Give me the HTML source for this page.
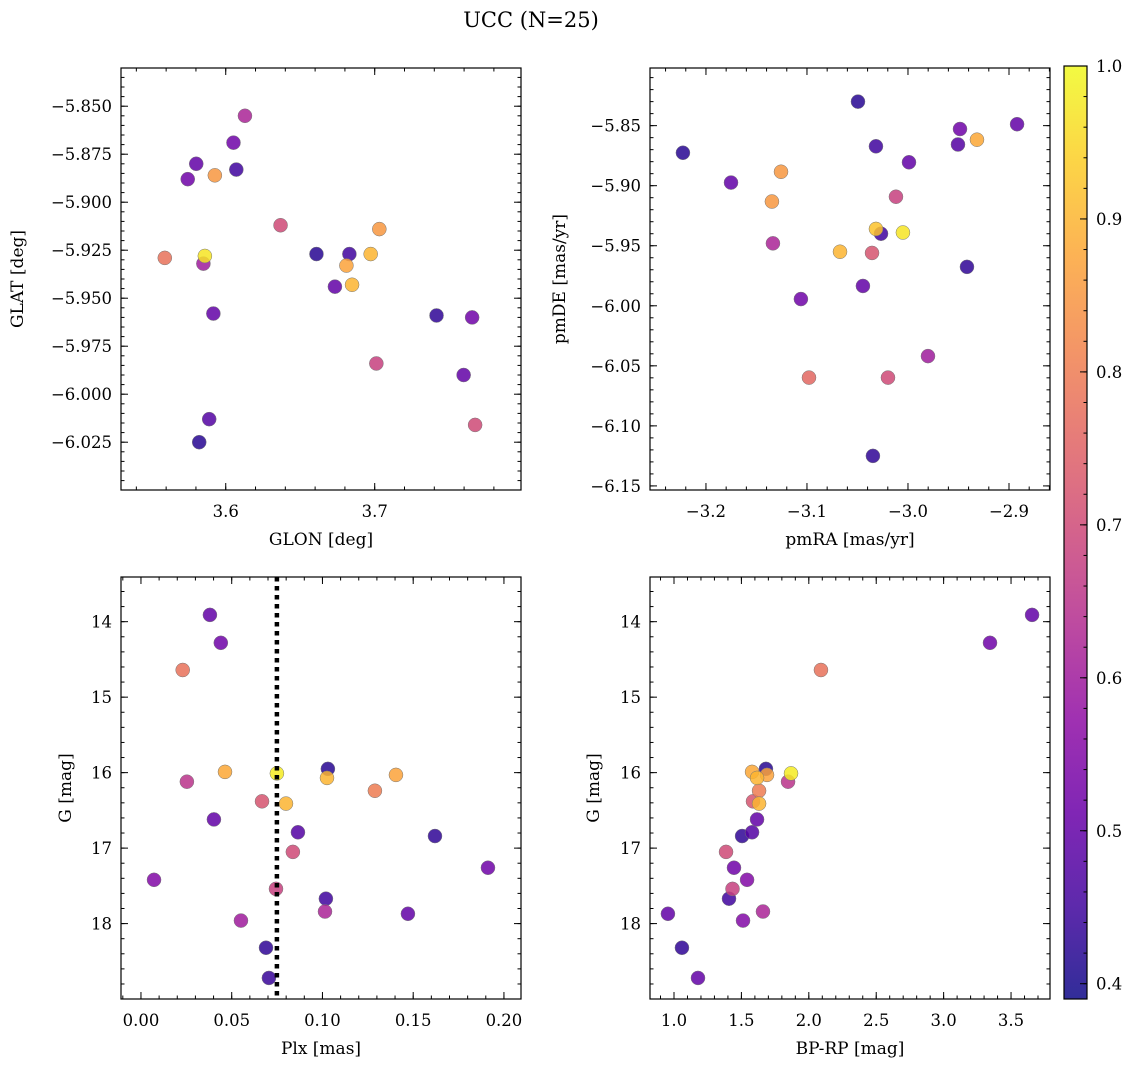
<!DOCTYPE html>
<html><head><meta charset="utf-8"><style>
body{margin:0;background:#fff}
svg text{font-family:"DejaVu Serif","Liberation Serif",serif;fill:#000}
</style></head><body>
<svg id="fig" width="1136" height="1067" xmlns="http://www.w3.org/2000/svg">
<text x="531" y="27" font-size="21" text-anchor="middle">UCC (N=25)</text>
</svg>
<script>
const prob1=[0.62,0.52,0.5,0.45,0.52,0.85,0.7,0.78,0.97,0.6,0.42,0.45,0.9,0.85,0.87,0.9,0.5,0.5,0.43,0.52,0.68,0.5,0.48,0.42,0.7];
const glon=[3.6129,3.6052,3.5802,3.6071,3.5745,3.5927,3.6368,3.5591,3.5860,3.5850,3.6609,3.6830,3.6973,3.7031,3.6810,3.6848,3.6733,3.5917,3.7415,3.7654,3.7011,3.7597,3.5889,3.5822,3.7674];
const glat=[-5.855,-5.869,-5.880,-5.883,-5.888,-5.886,-5.912,-5.929,-5.928,-5.932,-5.927,-5.927,-5.927,-5.914,-5.933,-5.943,-5.944,-5.958,-5.959,-5.960,-5.984,-5.990,-6.013,-6.025,-6.016];
const prob2=[0.42,0.42,0.5,0.52,0.48,0.88,0.45,0.5,0.5,0.85,0.85,0.68,0.92,0.45,0.97,0.62,0.9,0.72,0.43,0.52,0.5,0.6,0.76,0.7,0.43];
const pmra=[-3.0495,-3.2228,-2.892,-2.9485,-2.9505,-2.9317,-3.0317,-2.999,-3.1752,-3.1257,-3.1347,-3.0119,-3.0317,-3.0267,-3.005,-3.1337,-3.0673,-3.0356,-2.9416,-3.106,-3.0446,-2.9802,-3.098,-3.0198,-3.0347];
const pmde=[-5.830,-5.8726,-5.8488,-5.8528,-5.8657,-5.8617,-5.8672,-5.8805,-5.8974,-5.8884,-5.9132,-5.9092,-5.936,-5.940,-5.939,-5.948,-5.955,-5.956,-5.9676,-5.9944,-5.9835,-6.0419,-6.0598,-6.0598,-6.125];
const prob3=[0.5,0.52,0.78,0.42,0.88,0.98,0.9,0.87,0.65,0.8,0.72,0.9,0.5,0.48,0.43,0.7,0.52,0.55,0.68,0.45,0.62,0.5,0.6,0.43,0.44];
const plx=[0.038,0.044,0.023,0.103,0.0463,0.0749,0.1025,0.1405,0.0253,0.1289,0.0667,0.0799,0.0402,0.0865,0.162,0.0837,0.1912,0.0072,0.0744,0.1019,0.1014,0.1471,0.0551,0.0689,0.0705];
const gmag=[13.91,14.28,14.64,15.95,15.99,16.01,16.07,16.03,16.12,16.24,16.38,16.41,16.62,16.79,16.84,17.05,17.26,17.42,17.54,17.67,17.84,17.87,17.96,18.32,18.72];
const prob4=[0.5,0.52,0.78,0.42,0.88,0.98,0.9,0.87,0.65,0.8,0.72,0.9,0.5,0.48,0.43,0.7,0.52,0.55,0.68,0.45,0.62,0.5,0.55,0.43,0.5];
const bprp=[3.656,3.344,2.09,1.682,1.579,1.868,1.616,1.69,1.846,1.631,1.586,1.631,1.616,1.579,1.505,1.386,1.445,1.542,1.434,1.408,1.660,0.955,1.512,1.059,1.178];
const plxLine=[0.0749];
const cbTicks=[0.4,0.5,0.6,0.7,0.8,0.9,1.0];

const NS="http://www.w3.org/2000/svg";
const svg=document.getElementById('fig');
function mk(t,a,p){const e=document.createElementNS(NS,t);for(const k in a)e.setAttribute(k,a[k]);(p||svg).appendChild(e);return e;}
const stops=[[0,'#0d0887'],[0.1,'#41049d'],[0.2,'#6a00a8'],[0.3,'#8f0da4'],[0.4,'#b12a90'],[0.5,'#cc4778'],[0.6,'#e16462'],[0.7,'#f2844b'],[0.8,'#fca636'],[0.9,'#fcce25'],[1,'#f0f921']];
function hx(h){return [1,3,5].map(i=>parseInt(h.substr(i,2),16));}
const VMIN=0.39,VMAX=1.0;
function cmap(v){let t=(v-VMIN)/(VMAX-VMIN);t=Math.max(0,Math.min(1,t));
 for(let i=0;i<stops.length-1;i++){if(t<=stops[i+1][0]){const f=(t-stops[i][0])/(stops[i+1][0]-stops[i][0]);const a=hx(stops[i][1]),b=hx(stops[i+1][1]);return 'rgb('+a.map((x,j)=>Math.round(x+(b[j]-x)*f)).join(',')+')';}}return stops[10][1];}

function fmt(v,d){const s=Math.abs(v).toFixed(d);return (v<-1e-9?'\u2212':'')+s;}
function axes(name,L,T,W,H,xr,yr,xmaj,xmin,xd,ymaj,ymin,yd,xlabel,ylabel,yinv,yoff){
 const g=mk('g',{});
 
 
 const sx=v=>L+(v-xr[0])/(xr[1]-xr[0])*W;
 const sy=yinv?(v=>T+(v-yr[0])/(yr[1]-yr[0])*H):(v=>T+H-(v-yr[0])/(yr[1]-yr[0])*H);
 const ticks=(st,lo,hi)=>{const a=[];const s=Math.ceil(Math.min(lo,hi)/st-1e-6);for(let k=s;k*st<=Math.max(lo,hi)+1e-9;k++)a.push(+(k*st).toFixed(6));return a;};
 const tg=mk('g',{stroke:'#000','stroke-width':1},g);
 
 
 ticks(xmin,xr[0],xr[1]).forEach(v=>{const x=sx(v);mk('line',{x1:x,x2:x,y1:T+H,y2:T+H-3.5},tg);mk('line',{x1:x,x2:x,y1:T,y2:T+3.5},tg);});
 ticks(ymin,yr[0],yr[1]).forEach(v=>{const y=sy(v);mk('line',{x1:L,x2:L+3.5,y1:y,y2:y},tg);mk('line',{x1:L+W,x2:L+W-3.5,y1:y,y2:y},tg);});
 ticks(xmaj,xr[0],xr[1]).forEach(v=>{const x=sx(v);mk('line',{x1:x,x2:x,y1:T+H,y2:T+H-7},tg);mk('line',{x1:x,x2:x,y1:T,y2:T+7},tg);
   const t=mk('text',{x:x,y:T+H+27,'font-size':16.5,'text-anchor':'middle'},g);t.textContent=fmt(v,xd);
   
   });
 ticks(ymaj,yr[0],yr[1]).forEach(v=>{const y=sy(v);mk('line',{x1:L,x2:L+7,y1:y,y2:y},tg);mk('line',{x1:L+W,x2:L+W-7,y1:y,y2:y},tg);
   const t=mk('text',{x:L-9,y:y+6,'font-size':16.5,'text-anchor':'end'},g);t.textContent=fmt(v,yd);
   
   });
 const xl=mk('text',{x:L+W/2,y:T+H+55,'font-size':17,'text-anchor':'middle'},g);xl.textContent=xlabel;
 
 
 const yl=mk('text',{x:0,y:0,'font-size':17,'text-anchor':'middle',transform:`translate(${L-yoff},${T+H/2}) rotate(-90)`},g);yl.textContent=ylabel;
 
 
 const fr=mk('rect',{x:L,y:T,width:W,height:H,fill:'none',stroke:'#000','stroke-width':1.2},g);
 
 
 return {g,sx,sy};
}
function scatter(ax,xs,ys,ps){
 const idx=ps.map((p,i)=>i).sort((a,b)=>ps[a]-ps[b]);
 idx.forEach(i=>{const c=mk('circle',{cx:ax.sx(xs[i]),cy:ax.sy(ys[i]),r:7,fill:cmap(ps[i]),'fill-opacity':0.85,stroke:'#777','stroke-width':0.5},ax.g);
  
  });
}
const a1=axes('glon-glat-panel',121,68,400,422,[3.5297,3.7982],[-6.0499,-5.8301],0.1,0.02,1,0.025,0.005,3,'GLON [deg]','GLAT [deg]',false,98);
scatter(a1,glon,glat,prob1);
const a2=axes('pm-panel',650,68,400,422,[-3.2554,-2.8594],[-6.1534,-5.802],0.1,0.02,1,0.05,0.01,2,'pmRA [mas/yr]','pmDE [mas/yr]',false,85);
scatter(a2,pmra,pmde,prob2);
const a3=axes('plx-g-panel',121,577,400,422,[-0.011,0.2094],[13.408,18.999],0.05,0.01,2,1,0.2,0,'Plx [mas]','G [mag]',true,50);
scatter(a3,plx,gmag,prob3);
plxLine.forEach(v=>{const l=mk('line',{x1:a3.sx(v),x2:a3.sx(v),y1:577,y2:999,stroke:'#000','stroke-width':4.5,'stroke-dasharray':'4.5,4.5'},a3.g);
 
 });
const a4=axes('cmd-panel',650,577,400,422,[0.822,3.789],[13.408,18.999],0.5,0.1,1,1,0.2,0,'BP-RP [mag]','G [mag]',true,51);
scatter(a4,bprp,gmag,prob4);
const cb=mk('g',{});


const CT=66,CB=999,CL=1064,CW=23;
const defs=mk('defs',{},cb);const lg=mk('linearGradient',{id:'cbg',x1:0,y1:1,x2:0,y2:0},defs);
for(let i=0;i<=20;i++){const v=VMIN+(VMAX-VMIN)*i/20;mk('stop',{offset:i/20,'stop-color':cmap(v),'stop-opacity':0.85},lg);}
mk('rect',{x:CL,y:CT,width:CW,height:CB-CT,fill:'url(#cbg)'},cb);
const cy=v=>CB-(v-VMIN)/(VMAX-VMIN)*(CB-CT);
for(let k=20;k<=50;k++){const v=k*0.02;if(v<VMIN-1e-9||v>VMAX+1e-9)continue;mk('line',{x1:CL+CW,x2:CL+CW-3.5,y1:cy(v),y2:cy(v),stroke:'#000'},cb);}
cbTicks.forEach(v=>{mk('line',{x1:CL+CW,x2:CL+CW-7,y1:cy(v),y2:cy(v),stroke:'#000'},cb);
 const t=mk('text',{x:CL+CW+9,y:cy(v)+6,'font-size':16.5},cb);t.textContent=v.toFixed(1);
 
 });
mk('rect',{x:CL,y:CT,width:CW,height:CB-CT,fill:'none',stroke:'#000','stroke-width':1.2},cb);
</script>
</body></html>
